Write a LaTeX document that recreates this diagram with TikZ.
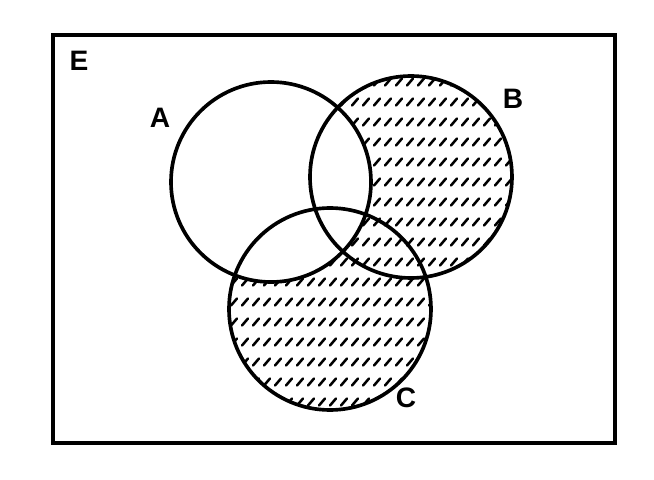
\documentclass[tikz,border=0pt]{standalone}
\usepackage{fontspec}
\setsansfont{Liberation Sans}
\usetikzlibrary{positioning}
\tikzset{setline/.style = {line width = 2.6pt}}
\tikzset{boxline/.style = {line width = 2.8pt, line join = miter}}
\tikzset{hatchline/.style = {line width = 1.8pt, line cap = round}}
\tikzset{setlabel/.style = {font = \sffamily\bfseries\fontsize{20}{24}\selectfont, inner sep = 0}}

\begin{document}
\begin{tikzpicture}[x = 0.025cm, y = -0.025cm]
      \useasboundingbox (0, 0) rectangle (654, 480);
      \coordinate (a) at (271, 182);
      \coordinate (b) at (411, 177);
      \coordinate (c) at (330, 309);
      % hatching of B and C
      \begin{scope}
        \clip (b) circle (101) (c) circle (101);
        \foreach \y in {82, 102, ..., 422} {
          \foreach \x in {220, 231, ..., 520} {
            \draw [hatchline] (\x, \y + 3.5) -- ++(6, -7);
          }
        }
      \end{scope}
      \fill [white] (a) circle (100);
      \draw [setline] (a) circle (100);
      \draw [setline] (b) circle (101);
      \draw [setline] (c) circle (101);
      \draw [boxline] (53, 35) rectangle (615, 443);
      \node [setlabel] (e) at (79, 61) {E};
      \node [setlabel] (la) at (160, 118) {A};
      \node [setlabel] (lb) at (513, 99) {B};
      \node [setlabel] (lc) at (406, 398) {C};
    \end{tikzpicture}
\end{document}
